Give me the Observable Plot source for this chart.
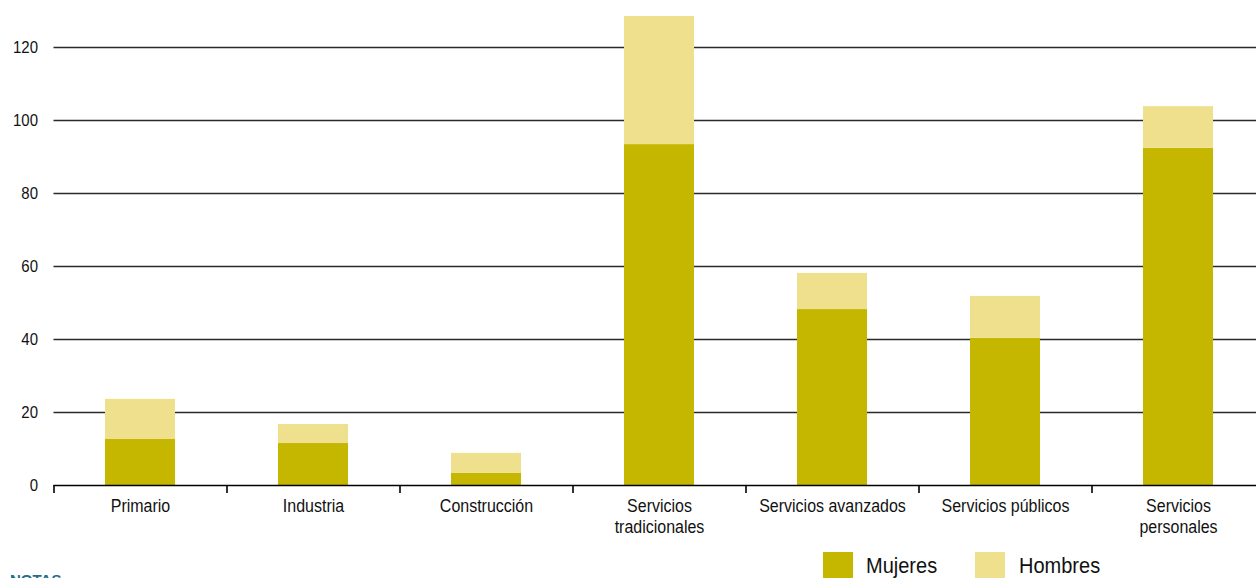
<!DOCTYPE html>
<html>
<head>
<meta charset="utf-8">
<script src="https://cdn.jsdelivr.net/npm/d3@7"></script>
<script src="https://cdn.jsdelivr.net/npm/@observablehq/plot@0.6"></script>
<style>
  html, body { margin: 0; padding: 0; background: #fff; overflow: hidden; }
  #wrap { position: relative; width: 1256px; height: 578px; font-family: "Liberation Sans", Arial, sans-serif; }
  .leg { position: absolute; top: 552px; height: 26px; width: 30px; }
  .legt { position: absolute; top: 551px; font-size: 20px; color: #111; transform: scaleY(1.12); transform-origin: top left; line-height: 26px; }
  #notas { position: absolute; left: 10px; top: 571px; font-size: 15px; font-weight: bold; color: #1f6e8c; }
</style>
</head>
<body>
<div id="wrap">
  <div id="chart"></div>
</div>
<script>
const sectores = ["Primario", "Industria", "Construcción", "Servicios tradicionales", "Servicios avanzados", "Servicios públicos", "Servicios personales"];
const etiquetas = ["Primario", "Industria", "Construcción", "Servicios\ntradicionales", "Servicios avanzados", "Servicios públicos", "Servicios\npersonales"];
const mujeres = [12.6, 11.5, 3.3, 93.4, 48.2, 40.3, 92.4];
const hombres = [11.0, 5.2, 5.5, 35.1, 9.9, 11.5, 11.4];
const series = ["Mujeres", "Hombres"];
const colores = ["#C5B700", "#EFE08E"];
const yTicks = [0, 20, 40, 60, 80, 100, 120];

const rows = [];
sectores.forEach((s, i) => rows.push({sector: s, sexo: series[0], valor: mujeres[i]}));
sectores.forEach((s, i) => rows.push({sector: s, sexo: series[1], valor: hombres[i]}));

const W = 1256, H = 545;
const x0 = 53.5, x1 = 1264.5;
const step = (x1 - x0) / sectores.length;

const chart = Plot.plot({
  width: W,
  height: H,
  marginLeft: x0,
  marginRight: W - x1,
  marginTop: 10.5,
  marginBottom: 60,
  style: {fontFamily: "Liberation Sans, Arial, sans-serif", maxWidth: "none", overflow: "hidden", background: "#fff"},
  x: {domain: sectores, range: [x0, x1], paddingInner: 0.595, paddingOuter: 0.2975, label: null},
  y: {domain: [0, 130], label: null},
  color: {domain: series, range: colores},
  marks: [
    Plot.ruleY(yTicks.filter(d => d > 0), {stroke: "#2a2a2a", strokeWidth: 1.7}),
    Plot.barY(rows, {x: "sector", y: "valor", fill: "sexo", order: series}),
    Plot.ruleY([0], {stroke: "#000", strokeWidth: 1.7}),
    Plot.ruleX(sectores, {x: d => d, dx: -step / 2, y1: 0, y2: 0, insetBottom: -8, stroke: "#000", strokeWidth: 1.6}),
    Plot.axisY({ticks: yTicks, tickSize: 0, tickPadding: 16, fontSize: 15, fill: "#111", label: null}),
    Plot.axisX({tickSize: 0, tickPadding: 11, fontSize: 16, fill: "#111", label: null,
      tickFormat: d => etiquetas[sectores.indexOf(d)], lineHeight: 1.2})
  ]
});
document.getElementById("chart").appendChild(chart);

// slight vertical stretch of tick labels, as in the original
d3.select(chart).selectAll('g[aria-label="y-axis tick label"] text, g[aria-label="x-axis tick label"] text')
  .attr("transform", function () {
    const t = this.getAttribute("transform") || "";
    return t + " scale(1,1.12)";
  });

const wrap = document.getElementById("wrap");
const legPos = [{sq: 823, tx: 866}, {sq: 975, tx: 1019}];
series.forEach((s, i) => {
  const sq = document.createElement("div");
  sq.className = "leg";
  sq.style.left = legPos[i].sq + "px";
  sq.style.background = colores[i];
  wrap.appendChild(sq);
  const t = document.createElement("div");
  t.className = "legt";
  t.style.left = legPos[i].tx + "px";
  t.textContent = s;
  wrap.appendChild(t);
});
const n = document.createElement("div");
n.id = "notas";
n.textContent = "NOTAS";
wrap.appendChild(n);
</script>
</body>
</html>
